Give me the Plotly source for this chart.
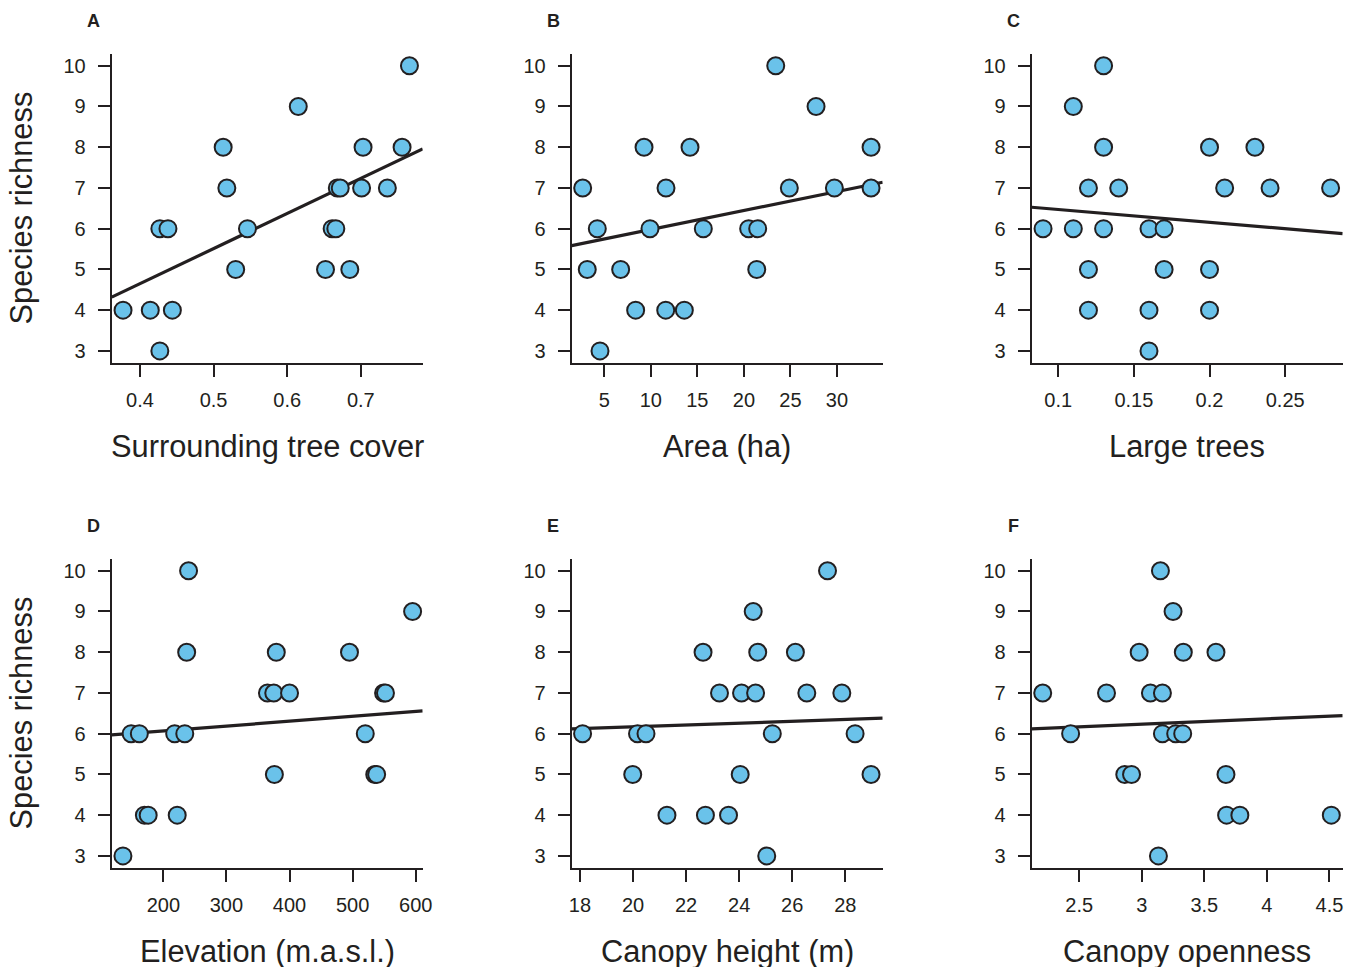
import plotly.graph_objects as go

# The page body adds an 8 px margin at the top-left, so the figure is drawn
# 8 px smaller and every pixel position is shifted by OFF.
OFF = 8
W, H = 1358 - OFF, 967 - OFF

# ---------------- data ----------------
species_label = "Species richness"

cover = [0.377, 0.414, 0.444, 0.427, 0.427, 0.438, 0.513, 0.518, 0.546, 0.530, 0.615,
         0.668, 0.672, 0.661, 0.666, 0.652, 0.685, 0.703, 0.701, 0.736, 0.756, 0.766]
rich_cover = [4, 4, 4, 3, 6, 6, 8, 7, 6, 5, 9, 7, 7, 6, 6, 5, 5, 8, 7, 7, 8, 10]

area = [2.68, 4.25, 3.17, 4.54, 6.76, 8.37, 9.27, 9.91, 11.63, 11.6, 13.6, 14.21, 15.64,
        20.51, 21.48, 21.38, 23.42, 24.88, 27.75, 29.72, 33.66, 33.66]
rich_area = [7, 6, 5, 3, 5, 4, 8, 6, 7, 4, 4, 8, 6, 6, 6, 5, 10, 7, 9, 7, 8, 7]

large_trees = [0.09, 0.11, 0.11, 0.13, 0.13, 0.13, 0.12, 0.12, 0.12, 0.14, 0.16, 0.17,
               0.17, 0.16, 0.16, 0.20, 0.20, 0.20, 0.21, 0.23, 0.24, 0.28]
rich_trees = [6, 9, 6, 10, 8, 6, 7, 5, 4, 7, 6, 6, 5, 4, 3, 8, 5, 4, 7, 8, 7, 7]

elevation = [136, 149, 162, 170, 176, 218, 234, 222, 240, 237, 365, 375, 400, 379, 376,
             495, 520, 535, 538, 549, 552, 595]
rich_elev = [3, 6, 6, 4, 4, 6, 6, 4, 10, 8, 7, 7, 7, 8, 5, 8, 6, 5, 5, 7, 7, 9]

canopy_height = [18.1, 20.17, 20.49, 19.99, 21.28, 22.64, 22.73, 23.26, 23.6, 24.04, 24.09,
                 24.62, 24.53, 24.7, 25.04, 25.25, 26.12, 26.55, 27.33, 27.87, 28.37, 28.97]
rich_height = [6, 6, 6, 5, 4, 8, 4, 7, 4, 5, 7, 7, 9, 8, 3, 6, 8, 7, 10, 7, 6, 5]

openness = [2.208, 2.431, 2.718, 2.864, 2.918, 2.979, 3.069, 3.165, 3.149, 3.133, 3.165,
            3.271, 3.327, 3.25, 3.332, 3.593, 3.673, 3.678, 3.784, 4.515]
rich_open = [7, 6, 7, 5, 5, 8, 7, 7, 10, 3, 6, 6, 6, 9, 8, 8, 5, 4, 4, 4]

# fitted lines (intercept, slope)
fit_intercepts = [1.203, 5.514, 6.786, 5.828, 5.722, 5.839]
fit_slopes = [8.615, 0.04657, -3.149, 0.001195, 0.02235, 0.1311]

panel_letters = ["A", "B", "C", "D", "E", "F"]
x_titles = ["Surrounding tree cover", "Area (ha)", "Large trees",
            "Elevation (m.a.s.l.)", "Canopy height (m)", "Canopy openness"]
x_tickvals = [[0.4, 0.5, 0.6, 0.7], [5, 10, 15, 20, 25, 30], [0.1, 0.15, 0.2, 0.25],
              [200, 300, 400, 500, 600], [18, 20, 22, 24, 26, 28], [2.5, 3, 3.5, 4, 4.5]]
x_ticktext = [["0.4", "0.5", "0.6", "0.7"], ["5", "10", "15", "20", "25", "30"],
              ["0.1", "0.15", "0.2", "0.25"], ["200", "300", "400", "500", "600"],
              ["18", "20", "22", "24", "26", "28"], ["2.5", "3", "3.5", "4", "4.5"]]
x_ranges = [[0.3616, 0.784], [1.50, 34.91], [0.0825, 0.288],
            [118.2, 611], [17.69, 29.41], [2.12, 4.606]]
y_tickvals = [3, 4, 5, 6, 7, 8, 9, 10]
y_range = [2.71, 10.28]

xs = [cover, area, large_trees, elevation, canopy_height, openness]
ys = [rich_cover, rich_area, rich_trees, rich_elev, rich_height, rich_open]

# ---------------- layout geometry (screen pixels) ----------------
col_px = [(111.7, 422.7), (571.7, 882.7), (1031.7, 1342.7)]
row_px = [(54.3, 362.7), (559.3, 867.7)]


def px(v):
    return (v - OFF) / W


def py(v):
    return 1 - (v - OFF) / H


INK = "#231F20"
FILL = "rgb(106,194,234)"
FONT = "Liberation Sans, Arial, Helvetica, sans-serif"

fig = go.Figure()
layout = dict(
    width=W, height=H,
    margin=dict(l=0, r=0, t=0, b=0),
    paper_bgcolor="white", plot_bgcolor="white",
    showlegend=False,
    font=dict(family=FONT, color=INK),
)
annotations = []

for i in range(6):
    r, c = divmod(i, 3)
    n = i + 1
    xa = "xaxis" if n == 1 else f"xaxis{n}"
    ya = "yaxis" if n == 1 else f"yaxis{n}"
    xref = "x" if n == 1 else f"x{n}"
    yref = "y" if n == 1 else f"y{n}"
    x0, x1 = col_px[c]
    top, bot = row_px[r]
    layout[xa] = dict(
        domain=[px(x0), px(x1)], range=x_ranges[i], anchor=yref,
        showgrid=False, zeroline=False, showline=True, linecolor=INK, linewidth=2,
        ticks="outside", ticklen=12, tickwidth=2, tickcolor=INK,
        tickvals=x_tickvals[i], ticktext=x_ticktext[i],
        tickfont=dict(size=20, color=INK, family=FONT),
        ticklabelstandoff=6, automargin=False, fixedrange=True,
    )
    layout[ya] = dict(
        domain=[py(bot), py(top)], range=y_range, anchor=xref,
        showgrid=False, zeroline=False, showline=True, linecolor=INK, linewidth=2,
        ticks="outside", ticklen=12, tickwidth=2, tickcolor=INK,
        tickvals=y_tickvals, tickfont=dict(size=20, color=INK, family=FONT),
        ticklabelstandoff=8, automargin=False, fixedrange=True,
    )
    # fitted line across the axis range
    lx = x_ranges[i]
    ly = [fit_intercepts[i] + fit_slopes[i] * v for v in lx]
    fig.add_trace(go.Scatter(x=lx, y=ly, mode="lines", xaxis=xref, yaxis=yref,
                             line=dict(color=INK, width=3.2), cliponaxis=True,
                             hoverinfo="skip"))
    fig.add_trace(go.Scatter(x=xs[i], y=ys[i], mode="markers", xaxis=xref, yaxis=yref,
                             marker=dict(size=17, color=FILL,
                                         line=dict(color=INK, width=2)),
                             cliponaxis=False))
    # x-axis title
    annotations.append(dict(
        text=x_titles[i], xref="paper", yref="paper",
        x=px((x0 + x1) / 2), y=py(446 + 505 * r),
        xanchor="center", yanchor="middle", showarrow=False,
        font=dict(size=30.8, color=INK, family=FONT)))
    # panel letter
    annotations.append(dict(
        text=f"<b>{panel_letters[i]}</b>", xref="paper", yref="paper",
        x=px(x0 - 18.5), y=py(21 + 505 * r),
        xanchor="center", yanchor="middle", showarrow=False,
        font=dict(size=18, color=INK, family=FONT)))

for r in range(2):
    top, bot = row_px[r]
    annotations.append(dict(
        text=species_label, xref="paper", yref="paper",
        x=px(21), y=py((top + bot) / 2), textangle=-90,
        xanchor="center", yanchor="middle", showarrow=False,
        font=dict(size=30.8, color=INK, family=FONT)))

layout["annotations"] = annotations
fig.update_layout(**layout)
fig.write_html("out.html")
